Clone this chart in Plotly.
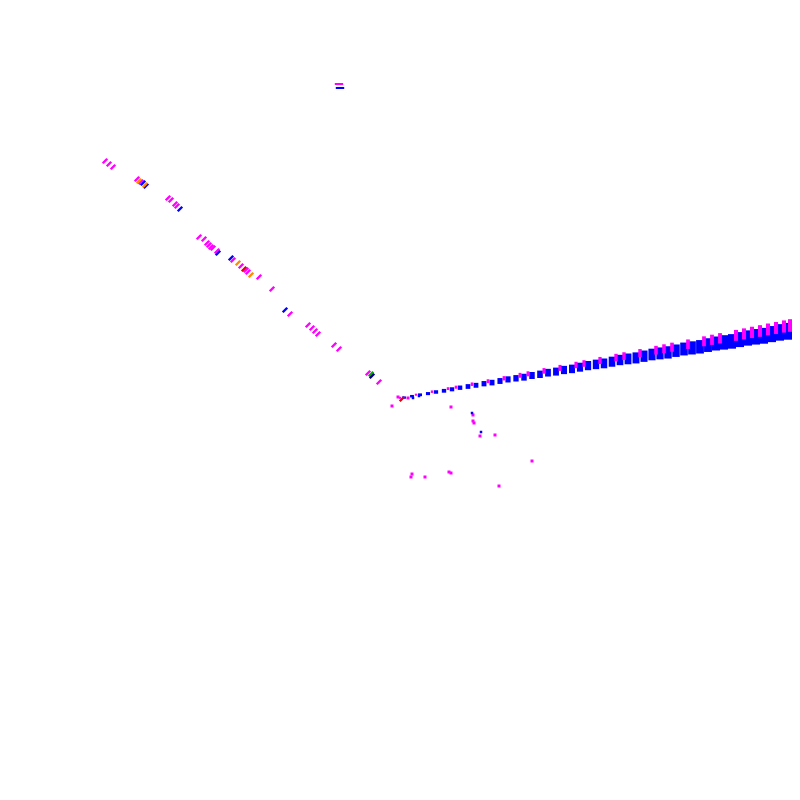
import plotly.graph_objects as go

# main band (right arm): blue blocks
band_x = [404, 412, 420, 428, 436, 444, 452, 460, 468, 476, 484, 492, 500, 508, 516, 524,
          532, 540, 548, 556, 564, 572, 580, 588, 596, 604, 612, 620, 628, 636, 644, 652,
          660, 668, 676, 684, 692, 700, 708, 716, 724, 732, 740, 748, 756, 764, 772, 780, 788]
band_y = [397.6, 396.2, 394.8, 393.6, 392.0, 390.8, 389.3, 387.7, 386.5, 385.3, 383.7, 382.6,
          381.0, 379.4, 378.3, 377.2, 375.5, 374.3, 372.7, 371.6, 370.0, 368.9, 367.2, 365.6,
          364.4, 363.4, 361.7, 360.0, 358.9, 357.9, 356.2, 354.5, 353.4, 352.4, 350.7, 349.0,
          347.9, 346.8, 345.1, 343.5, 342.4, 341.4, 339.6, 338.0, 336.8, 335.8, 334.1, 332.4, 331.3]
band_h = [1.7, 1.8, 2.0, 2.2, 2.5, 2.7, 2.9, 3.1, 3.4, 3.5, 3.8, 4.0, 4.2, 4.4, 4.6, 4.9,
          5.0, 5.3, 5.5, 5.7, 5.9, 6.1, 6.4, 6.6, 6.8, 7.0, 7.2, 7.4, 7.7, 7.9, 8.1, 8.3,
          8.5, 8.8, 8.9, 9.2, 9.4, 9.6, 9.8, 10.0, 10.3, 10.4, 10.7, 10.9, 11.1, 11.3, 11.5, 11.8, 12.0]

# main band: magenta stripes on top
top_x = [400, 416, 432, 448, 456, 472, 488, 504, 520, 528, 544, 560, 576, 584, 600, 616, 624,
         640, 656, 664, 672, 688, 704, 712, 720, 736, 744, 752, 760, 768, 776, 784, 790]
top_y = [397.8, 394.7, 391.7, 388.6, 387.2, 384.2, 381.2, 378.3, 375.3, 373.8, 370.9, 367.9,
         365.0, 363.5, 360.5, 357.6, 356.1, 353.1, 350.2, 348.7, 347.2, 344.2, 341.3, 339.8,
         338.3, 335.4, 333.9, 332.4, 331.0, 329.4, 328.0, 326.5, 325.5]
top_h = [1.5, 1.5, 1.8, 2.0, 2.2, 2.5, 2.8, 3.1, 3.5, 3.6, 4.0, 4.3, 4.6, 4.7, 5.1, 5.4, 5.5,
         5.8, 6.2, 6.3, 6.5, 6.8, 7.1, 7.3, 7.4, 7.8, 7.9, 8.1, 8.3, 8.4, 8.6, 8.7, 9.0]

# left arm: short slanted strokes
arm_magenta_x = [105, 109, 113, 137, 141, 168, 171, 175, 177, 199, 204, 207, 209, 211, 213,
                 217, 233, 241, 246, 248, 259, 272, 290, 308, 312, 315, 318, 334, 339, 368, 379]
arm_magenta_y = [161, 164, 167, 179, 182, 198, 200, 204, 206, 237, 239, 243, 245, 247, 248,
                 251, 260, 266, 270, 272, 277, 289, 314, 325, 328, 331, 334, 345, 349, 373, 382]
arm_blue_x = [143, 146, 180, 218, 231, 285]
arm_blue_y = [183, 186, 209, 253, 258, 310]
arm_orange_x = [139, 145, 238, 251]
arm_orange_y = [181, 185, 263, 275]
arm_red_x = [244, 402]
arm_red_y = [269, 399]
arm_green_x = [371]
arm_green_y = [374]
arm_navy_x = [372]
arm_navy_y = [376]

# scattered dots below the band
dot_magenta_x = [398, 408, 392, 451, 473, 473, 474, 480, 495, 532, 412, 411, 425, 449, 451, 499]
dot_magenta_y = [397, 398, 406, 407, 415, 421, 423, 436, 435, 461, 474, 477, 477, 472, 473, 486]
dot_blue_x = [472, 481, 413, 419]
dot_blue_y = [413, 432, 398, 396]

# stray pair at the top
stray_x = [339, 340]
stray_y = [84, 88]

MAGENTA = '#ff00ff'
BLUE = '#0000ff'

fig = go.Figure()

# blocks get wider towards the right end of the band
band_w = [min(8, 3 + 0.5 * h) for h in band_h]
top_w = [min(4, 2 + 0.25 * h) for h in top_h]

fig.add_trace(go.Scatter(
    x=band_x, y=band_y, mode='markers',
    marker=dict(symbol='line-ns', size=band_h, color=BLUE, opacity=1,
                line=dict(color=BLUE, width=band_w)),
))
fig.add_trace(go.Scatter(
    x=top_x, y=top_y, mode='markers',
    marker=dict(symbol='line-ns', size=top_h, color=MAGENTA, opacity=1,
                line=dict(color=MAGENTA, width=top_w)),
))

for xs, ys, col in [(arm_magenta_x, arm_magenta_y, MAGENTA),
                    (arm_blue_x, arm_blue_y, BLUE),
                    (arm_orange_x, arm_orange_y, '#ff8c00'),
                    (arm_red_x, arm_red_y, '#e60000'),
                    (arm_green_x, arm_green_y, '#00b000'),
                    (arm_navy_x, arm_navy_y, '#000080')]:
    fig.add_trace(go.Scatter(
        x=xs, y=ys, mode='markers',
        marker=dict(symbol='line-ne', size=4.5, color=col, opacity=1,
                    line=dict(color=col, width=2.4)),
    ))

fig.add_trace(go.Scatter(
    x=dot_magenta_x, y=dot_magenta_y, mode='markers',
    marker=dict(symbol='square', size=3, color=MAGENTA, opacity=1, line=dict(width=0)),
))
fig.add_trace(go.Scatter(
    x=dot_blue_x, y=dot_blue_y, mode='markers',
    marker=dict(symbol='square', size=2.5, color=BLUE, opacity=1, line=dict(width=0)),
))
fig.add_trace(go.Scatter(
    x=stray_x, y=stray_y, mode='markers',
    marker=dict(symbol='line-ew', size=6, color=[MAGENTA, BLUE], opacity=1,
                line=dict(color=[MAGENTA, BLUE], width=2)),
))

# the page body adds an 8px margin, so the axes start at 8 to keep page coordinates
fig.update_layout(
    width=800,
    height=800,
    margin=dict(l=0, r=0, t=0, b=0),
    paper_bgcolor='white',
    plot_bgcolor='white',
    showlegend=False,
    xaxis=dict(visible=False, range=[8, 808]),
    yaxis=dict(visible=False, range=[808, 8]),
)

fig.write_html("out.html")
